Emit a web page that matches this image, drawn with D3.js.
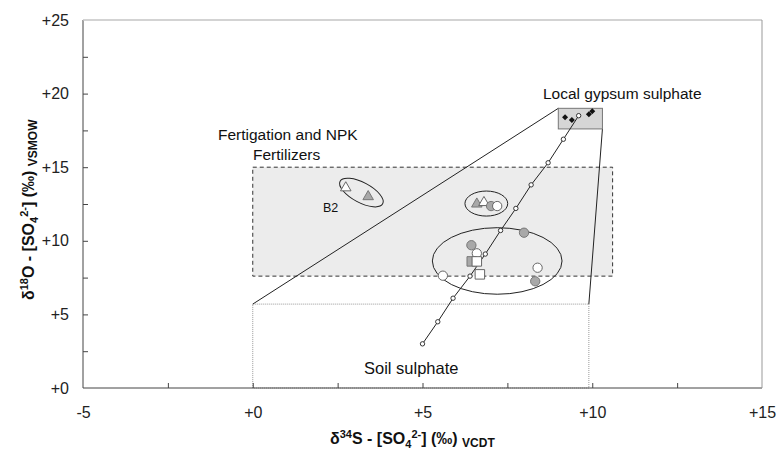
<!DOCTYPE html>
<html>
<head>
<meta charset="utf-8">
<script src="https://cdn.jsdelivr.net/npm/d3@7"></script>
<style>
  body{margin:0;background:#fff;}
  svg{font-family:"Liberation Sans",Arial,sans-serif;}
</style>
</head>
<body>
<svg id="chart" width="777" height="453"></svg>
<script>
// axis ticks
const xTicks=[-5,-2.5,0,2.5,5,7.5,10,12.5,15];
const yTicks=[0,2.5,5,7.5,10,12.5,15,17.5,20,22.5,25];

// local gypsum sulphate (black diamonds)
const gypsumX=[9.2,9.4,9.9,10.0];
const gypsumY=[18.4,18.2,18.6,18.8];

// mixing line between soil and gypsum sulphate
const mixX=[5.0,5.45,5.9,6.4,6.85,7.3,7.75,8.2,8.7,9.15,9.6];
const mixY=[3.0,4.5,6.1,7.6,9.1,10.7,12.2,13.8,15.3,16.9,18.5];

// samples: x, y, shape, filled?
const sampX=[2.74,3.4, 6.6,6.81,7.02,7.2, 7.99,6.44,6.6,6.45,6.6,6.69,5.6,8.39,8.32];
const sampY=[13.6,13.0,12.5,12.6,12.36,12.36, 10.55,9.7,9.15,8.6,8.6,7.72,7.63,8.17,7.25];
const sampShape=["tri","tri","tri","tri","circ","circ","circ","circ","circ","sq","sq","sq","circ","circ","circ"];
const sampGray=[false,true,true,false,true,false,true,true,false,true,false,false,false,false,true];

// boxes [x0,x1,y0,y1]
const fertBox=[0,10.6,7.6,15];
const soilBox=[0,9.9,0,5.7];
const gypBox=[9.0,10.3,17.6,19.0];

// ellipses: centre, radii (data units), rotation
const ellCx=[3.2,6.88,7.2];
const ellCy=[13.28,12.53,8.63];
const ellRx=[0.71,0.63,1.91];
const ellRy=[0.68,0.85,2.26];
const ellRot=[28,0,0];

const svg=d3.select("#chart");
const mL=83,mR=762,mT=20,mB=388;
const x=d3.scaleLinear().domain([-5,15]).range([mL,mR]);
const y=d3.scaleLinear().domain([0,25]).range([mB,mT]);
const fmt=(d)=>d===0?"+0":(d>0?"+"+d:""+d);

// fertilizer box
svg.append("rect")
  .attr("x",x(fertBox[0])).attr("y",y(fertBox[3]))
  .attr("width",x(fertBox[1])-x(fertBox[0]))
  .attr("height",y(fertBox[2])-y(fertBox[3]))
  .attr("fill","#ececec").attr("stroke","#333")
  .attr("stroke-width",1).attr("stroke-dasharray","4,3");

// soil box
svg.append("rect")
  .attr("x",x(soilBox[0])).attr("y",y(soilBox[3]))
  .attr("width",x(soilBox[1])-x(soilBox[0]))
  .attr("height",y(soilBox[2])-y(soilBox[3]))
  .attr("fill","none").attr("stroke","#999")
  .attr("stroke-width",1).attr("stroke-dasharray","1,1");

// envelope lines from soil box to gypsum box
svg.append("line")
  .attr("x1",x(soilBox[0])).attr("y1",y(soilBox[3]))
  .attr("x2",x(gypBox[0])).attr("y2",y(gypBox[3]))
  .attr("stroke","#222").attr("stroke-width",1);
svg.append("line")
  .attr("x1",x(soilBox[1])).attr("y1",y(soilBox[3]))
  .attr("x2",x(gypBox[1])).attr("y2",y(gypBox[2]))
  .attr("stroke","#222").attr("stroke-width",1);

// gypsum box
svg.append("rect")
  .attr("x",x(gypBox[0])).attr("y",y(gypBox[3]))
  .attr("width",x(gypBox[1])-x(gypBox[0]))
  .attr("height",y(gypBox[2])-y(gypBox[3]))
  .attr("fill","#d6d6d6").attr("stroke","#777").attr("stroke-width",1);

// axes
const yAxis=d3.axisLeft(y).tickValues(yTicks).tickSize(-5).tickPadding(14)
  .tickFormat((d)=>d%5===0?fmt(d):"");
const xAxis=d3.axisBottom(x).tickValues(xTicks).tickSize(-5).tickPadding(19)
  .tickFormat((d)=>d%5===0?fmt(d):"");
const gy=svg.append("g").attr("transform",`translate(${mL},0)`).call(yAxis);
const gx=svg.append("g").attr("transform",`translate(0,${mB})`).call(xAxis);
[gx,gy].forEach((g)=>{
  g.select(".domain").remove();
  g.selectAll(".tick line").attr("stroke","#444");
  g.selectAll(".tick text").attr("fill","#222").style("font-size","16px");
});
gx.selectAll(".tick").filter((d)=>d===-5||d===15).select("line").remove();
gy.selectAll(".tick").filter((d)=>d===0||d===25).select("line").remove();

svg.append("line").attr("x1",mL).attr("x2",mL).attr("y1",mT).attr("y2",mB)
  .attr("stroke","#444");
svg.append("line").attr("x1",mL).attr("x2",mR).attr("y1",mB).attr("y2",mB)
  .attr("stroke","#444");
svg.append("line").attr("x1",mL).attr("x2",mR).attr("y1",mT).attr("y2",mT)
  .attr("stroke","#c4c4c4").attr("stroke-width",1.5);
svg.append("line").attr("x1",mR).attr("x2",mR).attr("y1",mT).attr("y2",mB)
  .attr("stroke","#999");

// ellipses
svg.selectAll(".ell").data(ellCx).enter().append("ellipse")
  .attr("class","ell")
  .attr("cx",0).attr("cy",0)
  .attr("rx",(d,i)=>x(ellRx[i])-x(0))
  .attr("ry",(d,i)=>y(0)-y(ellRy[i]))
  .attr("transform",(d,i)=>`translate(${x(d)},${y(ellCy[i])}) rotate(${ellRot[i]})`)
  .attr("fill","none").attr("stroke","#222").attr("stroke-width",1);

// mixing line
svg.append("path")
  .datum(mixX.map((d,i)=>[d,mixY[i]]))
  .attr("d",d3.line().x((d)=>x(d[0])).y((d)=>y(d[1])))
  .attr("fill","none").attr("stroke","#222").attr("stroke-width",1);

// samples
const samples=sampX.map((d,i)=>({x:d,y:sampY[i],shape:sampShape[i],gray:sampGray[i]}));
const symMap={tri:d3.symbolTriangle,circ:d3.symbolCircle,sq:d3.symbolSquare};
const sizeMap={tri:48,circ:68,sq:90};
svg.selectAll(".samp").data(samples).enter().append("path")
  .attr("class","samp")
  .attr("transform",(d)=>`translate(${x(d.x)},${y(d.y)})`)
  .attr("d",(d)=>d3.symbol(symMap[d.shape],sizeMap[d.shape])())
  .attr("fill",(d)=>d.gray?"#a8a8a8":"#fff")
  .attr("stroke",(d)=>d.gray?"#777":"#666")
  .attr("stroke-width",1);

// mixing circles
svg.selectAll(".mix").data(mixX).enter().append("circle")
  .attr("class","mix")
  .attr("cx",(d)=>x(d)).attr("cy",(d,i)=>y(mixY[i]))
  .attr("r",2.2).attr("fill","#fff").attr("stroke","#222").attr("stroke-width",0.9);

// gypsum diamonds (rotated squares)
svg.selectAll(".gyp").data(gypsumX).enter().append("path")
  .attr("class","gyp")
  .attr("transform",(d,i)=>`translate(${x(d)},${y(gypsumY[i])}) rotate(45)`)
  .attr("d",d3.symbol(d3.symbolSquare,18)())
  .attr("fill","#111");

// annotations
const label=(t,px,py,size)=>svg.append("text").attr("x",px).attr("y",py)
  .attr("fill","#111").style("font-size",size+"px").text(t);
label("Local gypsum sulphate",543,99,15.5);
label("Fertigation and NPK",218,140,15.5);
label("Fertilizers",253,160,15.5);
label("Soil sulphate",364,374,16.5);
label("B2",323,212,12.5);

// axis titles
const xt=svg.append("text").attr("x",330).attr("y",444)
  .style("font-size","16px").style("font-weight","bold").attr("fill","#111");
xt.append("tspan").text("δ");
xt.append("tspan").attr("dy",-6).style("font-size","11px").text("34");
xt.append("tspan").attr("dy",6).text("S - [SO");
xt.append("tspan").attr("dy",4).style("font-size","11px").text("4");
xt.append("tspan").attr("dy",-10).style("font-size","11px").text("2-");
xt.append("tspan").attr("dy",6).text("] (‰) ");
xt.append("tspan").attr("dy",3).style("font-size","12px").text("VCDT");

const yt=svg.append("text").attr("transform","translate(34,300) rotate(-90)")
  .style("font-size","16px").style("font-weight","bold").attr("fill","#111");
yt.append("tspan").text("δ");
yt.append("tspan").attr("dy",-6).style("font-size","11px").text("18");
yt.append("tspan").attr("dy",6).text("O - [SO");
yt.append("tspan").attr("dy",4).style("font-size","11px").text("4");
yt.append("tspan").attr("dy",-10).style("font-size","11px").text("2-");
yt.append("tspan").attr("dy",6).text("] (‰) ");
yt.append("tspan").attr("dy",3).style("font-size","12px").text("VSMOW");
</script>
</body>
</html>
